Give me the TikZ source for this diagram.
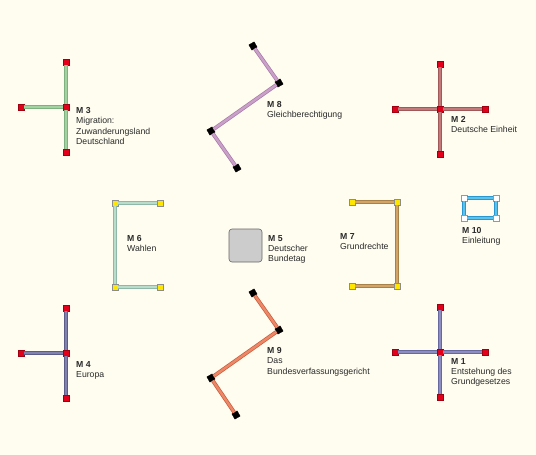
\documentclass[tikz,border=0pt]{standalone}
\usepackage{fontspec}
\setmainfont{Liberation Sans}

\definecolor{bgcream}{HTML}{FFFDF0}
\definecolor{sqred}{HTML}{E2001A}
\definecolor{sqyellow}{HTML}{FFE600}
\definecolor{txtgray}{HTML}{2A2A2A}
\definecolor{greenedge}{HTML}{7FB07F}
\definecolor{greenfill}{HTML}{A2D2A0}
\definecolor{lilacedge}{HTML}{A878A8}
\definecolor{lilacfill}{HTML}{C8A0C8}
\definecolor{roseedge}{HTML}{A05858}
\definecolor{rosefill}{HTML}{C27A7A}
\definecolor{mintedge}{HTML}{90B8A8}
\definecolor{mintfill}{HTML}{BADCCB}
\definecolor{tanedge}{HTML}{A88048}
\definecolor{tanfill}{HTML}{D2A468}
\definecolor{skyedge}{HTML}{2A98D0}
\definecolor{skyfill}{HTML}{5CC2EA}
\definecolor{slateedge}{HTML}{5C5C88}
\definecolor{slatefill}{HTML}{8282AE}
\definecolor{salmonedge}{HTML}{C85A38}
\definecolor{salmonfill}{HTML}{EC8868}
\definecolor{indigoedge}{HTML}{6868A0}
\definecolor{indigofill}{HTML}{8E8EBE}

\begin{document}
\begin{tikzpicture}[x=1pt, y=-1pt, every node/.style={font=\fontsize{8.7}{10.4}\selectfont}]
    \tikzset{
      rsq/.style={rectangle, draw=sqred!70!black, fill=sqred, line width=0.4pt, inner sep=0pt, minimum size=6.2pt},
      ysq/.style={rectangle, draw=black!45, fill=sqyellow, line width=0.4pt, inner sep=0pt, minimum size=6.5pt},
      bsq/.style={rectangle, draw=black, fill=black, inner sep=0pt, minimum size=6pt, rotate=30},
      wsq/.style={rectangle, draw=black!40, fill=white, line width=0.4pt, inner sep=0pt, minimum size=6pt},
      bar/.style={line width=0.7pt, double distance=2.4pt},
      lbl/.style={anchor=north west, inner sep=0pt, align=left, text=txtgray}
    }
    \fill[bgcream] (0,0) rectangle (536,455);

    % M 3
    \node[rsq] (m3t) at (66,62) {};
    \node[rsq] (m3c) at (66,107) {};
    \node[rsq] (m3b) at (66,152) {};
    \node[rsq] (m3l) at (21,107) {};
    \draw[bar, draw=greenedge, double=greenfill] (m3t)--(m3c) (m3c)--(m3b) (m3l)--(m3c);
    \node[lbl] (m3lbl) at (76,107) {\textbf{M 3}\\Migration:\\Zuwanderungsland\\Deutschland};

    % M 8
    \node[bsq] (m8a) at (253,46) {};
    \node[bsq] (m8b) at (279,83) {};
    \node[bsq] (m8c) at (211,131) {};
    \node[bsq] (m8d) at (237,168) {};
    \draw[bar, draw=lilacedge, double=lilacfill] (m8a)--(m8b) (m8b)--(m8c) (m8c)--(m8d);
    \node[lbl] (m8lbl) at (267,101) {\textbf{M 8}\\Gleichberechtigung};

    % M 2
    \node[rsq] (m2t) at (440,64) {};
    \node[rsq] (m2c) at (440,109) {};
    \node[rsq] (m2b) at (440,154) {};
    \node[rsq] (m2l) at (395,109) {};
    \node[rsq] (m2r) at (485,109) {};
    \draw[bar, draw=roseedge, double=rosefill] (m2t)--(m2c) (m2c)--(m2b) (m2l)--(m2c) (m2c)--(m2r);
    \node[lbl] (m2lbl) at (451,116) {\textbf{M 2}\\Deutsche Einheit};

    % M 6
    \node[ysq] (m6a) at (115,203) {};
    \node[ysq] (m6b) at (160,203) {};
    \node[ysq] (m6c) at (115,287) {};
    \node[ysq] (m6d) at (160,287) {};
    \draw[bar, draw=mintedge, double=mintfill] (m6b)--(m6a) (m6a)--(m6c) (m6c)--(m6d);
    \node[lbl] (m6lbl) at (127,235) {\textbf{M 6}\\Wahlen};

    % M 5
    \node[rectangle, rounded corners=3pt, draw=black!60, fill=black!20, line width=0.6pt, minimum size=33pt, inner sep=0pt] (m5) at (245.5,245.5) {};
    \node[lbl] (m5lbl) at (268,235) {\textbf{M 5}\\Deutscher\\Bundetag};

    % M 7
    \node[ysq] (m7a) at (352,202) {};
    \node[ysq] (m7b) at (397,202) {};
    \node[ysq] (m7c) at (397,286) {};
    \node[ysq] (m7d) at (352,286) {};
    \draw[bar, draw=tanedge, double=tanfill] (m7a)--(m7b) (m7b)--(m7c) (m7c)--(m7d);
    \node[lbl] (m7lbl) at (340,233) {\textbf{M 7}\\Grundrechte};

    % M 10
    \node[wsq] (m10a) at (464,198) {};
    \node[wsq] (m10b) at (496,198) {};
    \node[wsq] (m10c) at (496,218) {};
    \node[wsq] (m10d) at (464,218) {};
    \draw[bar, draw=skyedge, double=skyfill] (m10a)--(m10b) (m10b)--(m10c) (m10c)--(m10d) (m10d)--(m10a);
    \node[lbl] (m10lbl) at (462,227) {\textbf{M 10}\\Einleitung};

    % M 4
    \node[rsq] (m4t) at (66,308) {};
    \node[rsq] (m4c) at (66,353) {};
    \node[rsq] (m4b) at (66,398) {};
    \node[rsq] (m4l) at (21,353) {};
    \draw[bar, draw=slateedge, double=slatefill] (m4t)--(m4c) (m4c)--(m4b) (m4l)--(m4c);
    \node[lbl] (m4lbl) at (76,361) {\textbf{M 4}\\Europa};

    % M 9
    \node[bsq] (m9a) at (253,293) {};
    \node[bsq] (m9b) at (279,330) {};
    \node[bsq] (m9c) at (211,378) {};
    \node[bsq] (m9d) at (236,415) {};
    \draw[bar, draw=salmonedge, double=salmonfill] (m9a)--(m9b) (m9b)--(m9c) (m9c)--(m9d);
    \node[lbl] (m9lbl) at (267,347) {\textbf{M 9}\\Das\\Bundesverfassungsgericht};

    % M 1
    \node[rsq] (m1t) at (440,307) {};
    \node[rsq] (m1c) at (440,352) {};
    \node[rsq] (m1b) at (440,397) {};
    \node[rsq] (m1l) at (395,352) {};
    \node[rsq] (m1r) at (485,352) {};
    \draw[bar, draw=indigoedge, double=indigofill] (m1t)--(m1c) (m1c)--(m1b) (m1l)--(m1c) (m1c)--(m1r);
    \node[lbl] (m1lbl) at (451,358) {\textbf{M 1}\\Entstehung des\\Grundgesetzes};
\end{tikzpicture}
\end{document}
